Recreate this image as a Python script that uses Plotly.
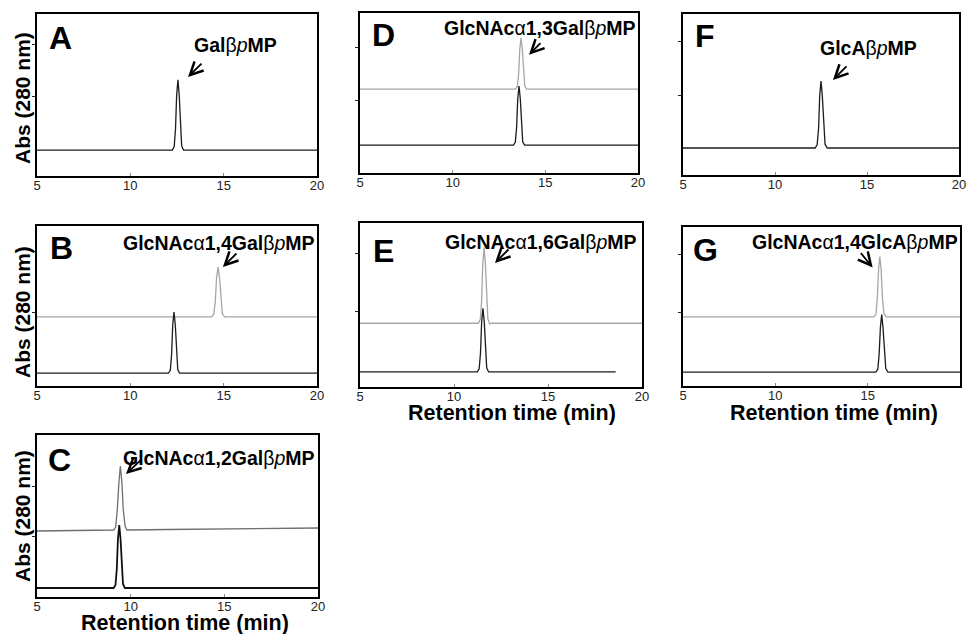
import plotly.graph_objects as go

# ---------------- data (retention time in min, absorbance in arbitrary units) ----------------
panels = ["A", "B", "C", "D", "E", "F", "G"]
x_ticks = [5, 10, 15, 20]
x_tick_labels = ["5", "10", "15", "20"]
y_ticks = [1, 2]

# Panel A
a_black_t = [5, 12.25, 12.35, 12.42, 12.48, 12.55, 12.62, 12.68, 12.75, 12.85, 20]
a_black_v = [-0.04, -0.04, 0.03, 0.37, 1.01, 1.31, 1.01, 0.39, 0.04, -0.04, -0.04]
# Panel B
b_black_t = [5, 12.04, 12.14, 12.21, 12.27, 12.34, 12.41, 12.47, 12.54, 12.64, 20]
b_black_v = [-0.02, -0.02, 0.03, 0.29, 0.78, 1.0, 0.78, 0.31, 0.04, -0.02, -0.02]
b_gray_t = [5, 14.35, 14.47, 14.55, 14.62, 14.7, 14.78, 14.85, 14.93, 15.05, 20]
b_gray_v = [0.92, 0.92, 0.96, 1.17, 1.57, 1.75, 1.57, 1.19, 0.97, 0.92, 0.92]
# Panel C
c_black_t = [5, 9.09, 9.19, 9.26, 9.32, 9.39, 9.46, 9.52, 9.59, 9.69, 20]
c_black_v = [-0.04, -0.04, 0.02, 0.34, 0.94, 1.22, 0.94, 0.36, 0.04, -0.04, -0.04]
c_gray_t = [5, 7, 9.1, 9.2, 9.28, 9.37, 9.45, 9.53, 9.6, 9.7, 9.8, 12, 15, 17.5, 20]
c_gray_v = [1.10, 1.11, 1.12, 1.18, 1.50, 2.05, 2.40, 2.08, 1.55, 1.20, 1.12, 1.13, 1.14, 1.15, 1.16]
# Panel D
d_black_t = [5, 13.28, 13.38, 13.45, 13.51, 13.58, 13.65, 13.71, 13.78, 13.88, 20]
d_black_v = [0.135, 0.135, 0.19, 0.475, 1.02, 1.27, 1.02, 0.50, 0.20, 0.135, 0.135]
d_gray_t = [5, 13.39, 13.49, 13.56, 13.62, 13.69, 13.76, 13.82, 13.89, 13.99, 20]
d_gray_v = [1.21, 1.21, 1.26, 1.50, 1.97, 2.19, 1.97, 1.52, 1.27, 1.21, 1.21]
# Panel E
e_black_t = [5, 11.24, 11.34, 11.41, 11.47, 11.54, 11.61, 11.67, 11.74, 11.84, 18.6]
e_black_v = [-0.05, -0.05, 0.005, 0.28, 0.81, 1.05, 0.81, 0.30, 0.02, -0.05, -0.05]
e_gray_t = [5, 11.3, 11.4, 11.47, 11.53, 11.6, 11.67, 11.73, 11.8, 11.9, 12.0, 20]
e_gray_v = [0.79, 0.79, 0.86, 1.18, 1.81, 2.10, 1.81, 1.21, 0.87, 0.78, 0.79, 0.79]
# Panel F
f_black_t = [5, 12.18, 12.29, 12.37, 12.43, 12.5, 12.57, 12.64, 12.72, 12.84, 20]
f_black_v = [0.02, 0.02, 0.08, 0.39, 0.99, 1.26, 0.99, 0.42, 0.09, 0.02, 0.02]
# Panel G
g_black_t = [5, 15.44, 15.55, 15.62, 15.69, 15.76, 15.83, 15.9, 15.98, 16.1, 20]
g_black_v = [-0.02, -0.02, 0.03, 0.28, 0.75, 0.97, 0.75, 0.30, 0.04, -0.02, -0.02]
g_gray_t = [5, 15.34, 15.45, 15.52, 15.59, 15.66, 15.73, 15.8, 15.88, 16.0, 20]
g_gray_v = [0.93, 0.93, 0.98, 1.24, 1.74, 1.97, 1.74, 1.26, 0.99, 0.93, 0.93]

# peak labels: (text, label x, label y, arrow tip x, arrow tip y)
peak_labels = {
    "A": ("<b>Gal</b>β<i>p</i><b>MP</b>", 15.66, 1.98, 13.09, 1.365),
    "B": ("<b>GlcNAc</b>α<b>1,4Gal</b>β<i>p</i><b>MP</b>", 14.75, 2.15, 14.96, 1.75),
    "C": ("<b>GlcNAc</b>α<b>1,2Gal</b>β<i>p</i><b>MP</b>", 14.69, 2.56, 9.75, 2.24),
    "D": ("<b>GlcNAc</b>α<b>1,3Gal</b>β<i>p</i><b>MP</b>", 14.71, 2.38, 14.12, 1.87),
    "E": ("<b>GlcNAc</b>α<b>1,6Gal</b>β<i>p</i><b>MP</b>", 14.65, 2.19, 12.18, 1.83),
    "F": ("<b>GlcA</b>β<i>p</i><b>MP</b>", 15.08, 1.87, 13.15, 1.28),
    "G": ("<b>GlcNAc</b>α<b>1,4GlcA</b>β<i>p</i><b>MP</b>", 14.29, 2.22, 15.27, 1.78),
}
y_ranges = {
    "A": [-0.538, 2.577], "B": [-0.233, 2.433], "C": [-0.22, 3.02], "D": [-0.40, 2.67],
    "E": [-0.31, 2.52], "F": [-0.48, 2.5], "G": [-0.26, 2.48],
}
y_title = "Abs (280 nm)"
x_title = "Retention time (min)"

# ---------------- layout geometry ----------------
W, H = 967, 634
boxes = {  # left, right, top, bottom in px
    "A": (37, 317, 14, 176), "B": (37, 317, 226, 386), "C": (37, 318, 435, 597),
    "D": (360, 638, 13, 173), "E": (360, 642, 223, 387),
    "F": (683, 959, 14, 175), "G": (683, 960, 227, 386),
}
arrow_offsets = {"A": (15, -15), "B": (15, -15), "C": (16, -15), "D": (13, -13),
                 "E": (15, -15), "F": (15, -15), "G": (-13, -16)}
letter_pos = {"A": (47, 38), "B": (48, 248), "C": (46, 460), "D": (370, 35),
              "E": (371, 251), "F": (693, 36), "G": (691, 250)}

BLACK = "#1c1c1c"
GRAY = "#a6a6a6"
FONT = "Liberation Sans, Arial, sans-serif"

traces = {
    "A": [(a_black_t, a_black_v, BLACK, 1.3)],
    "B": [(b_gray_t, b_gray_v, GRAY, 1.3), (b_black_t, b_black_v, BLACK, 1.3)],
    "C": [(c_gray_t, c_gray_v, "#6e6e6e", 1.3), (c_black_t, c_black_v, "#111111", 1.8)],
    "D": [(d_gray_t, d_gray_v, GRAY, 1.3), (d_black_t, d_black_v, BLACK, 1.3)],
    "E": [(e_gray_t, e_gray_v, GRAY, 1.3), (e_black_t, e_black_v, BLACK, 1.3)],
    "F": [(f_black_t, f_black_v, BLACK, 1.3)],
    "G": [(g_gray_t, g_gray_v, GRAY, 1.3), (g_black_t, g_black_v, BLACK, 1.3)],
}

fig = go.Figure()
annotations = []
layout = {}
for i, p in enumerate(panels):
    n = "" if i == 0 else str(i + 1)
    xa, ya = "x" + n, "y" + n
    for t, v, col, lw in traces[p]:
        fig.add_trace(go.Scatter(x=t, y=v, mode="lines", xaxis=xa, yaxis=ya,
                                 line=dict(color=col, width=lw), showlegend=False,
                                 hoverinfo="skip"))
    l, r, tp, b = boxes[p]
    layout["xaxis" + n] = dict(
        domain=[l / W, r / W], anchor=ya, range=[5, 20], tickvals=x_ticks,
        ticktext=x_tick_labels, ticks="inside", ticklen=3, tickcolor="#888",
        ticklabelstandoff=-4,
        showline=True, mirror=True, linecolor="black", linewidth=2,
        showgrid=False, zeroline=False, fixedrange=True, automargin=False,
        tickfont=dict(family=FONT, size=13, color="#222"))
    layout["yaxis" + n] = dict(
        domain=[1 - b / H, 1 - tp / H], anchor=xa, range=y_ranges[p], tickvals=y_ticks,
        showticklabels=False, ticks="outside", ticklen=3, tickcolor="#222",
        showline=True, mirror=True, linecolor="black", linewidth=2,
        showgrid=False, zeroline=False, fixedrange=True, automargin=False)
    txt, lx, ly, tx, ty = peak_labels[p]
    annotations.append(dict(x=lx, y=ly, xref=xa, yref=ya, text=txt, showarrow=False,
                            xanchor="center", yanchor="middle",
                            font=dict(family=FONT, size=19.5, color="black")))
    axo, ayo = arrow_offsets[p]
    annotations.append(dict(x=tx, y=ty, xref=xa, yref=ya, ax=axo, ay=ayo, text="",
                            showarrow=True, arrowhead=5, arrowsize=1.4, arrowwidth=1.8,
                            arrowcolor="black"))
    lxp, lyp = letter_pos[p]
    annotations.append(dict(x=lxp / W, y=1 - lyp / H, xref="paper", yref="paper",
                            xanchor="left", yanchor="middle", text="<b>" + p + "</b>",
                            showarrow=False, font=dict(family=FONT, size=32, color="black")))

for cy in (98, 312, 516):
    annotations.append(dict(x=22 / W, y=1 - cy / H, xref="paper", yref="paper",
                            xanchor="center", yanchor="middle",
                            text="<b>" + y_title + "</b>", textangle=-90, showarrow=False,
                            font=dict(family=FONT, size=21, color="black")))
for cx, cy in ((185, 623), (512, 413), (834, 413)):
    annotations.append(dict(x=cx / W, y=1 - cy / H, xref="paper", yref="paper",
                            xanchor="center", yanchor="middle",
                            text="<b>" + x_title + "</b>", showarrow=False,
                            font=dict(family=FONT, size=21.5, color="black")))

fig.update_layout(template="none", width=W, height=H, margin=dict(l=0, r=0, t=0, b=0),
                  paper_bgcolor="white", plot_bgcolor="white",
                  annotations=annotations, **layout)
fig.write_html("out.html", config={"displayModeBar": False},
               post_script="document.body.style.margin='0px';document.body.style.overflow='hidden';")
